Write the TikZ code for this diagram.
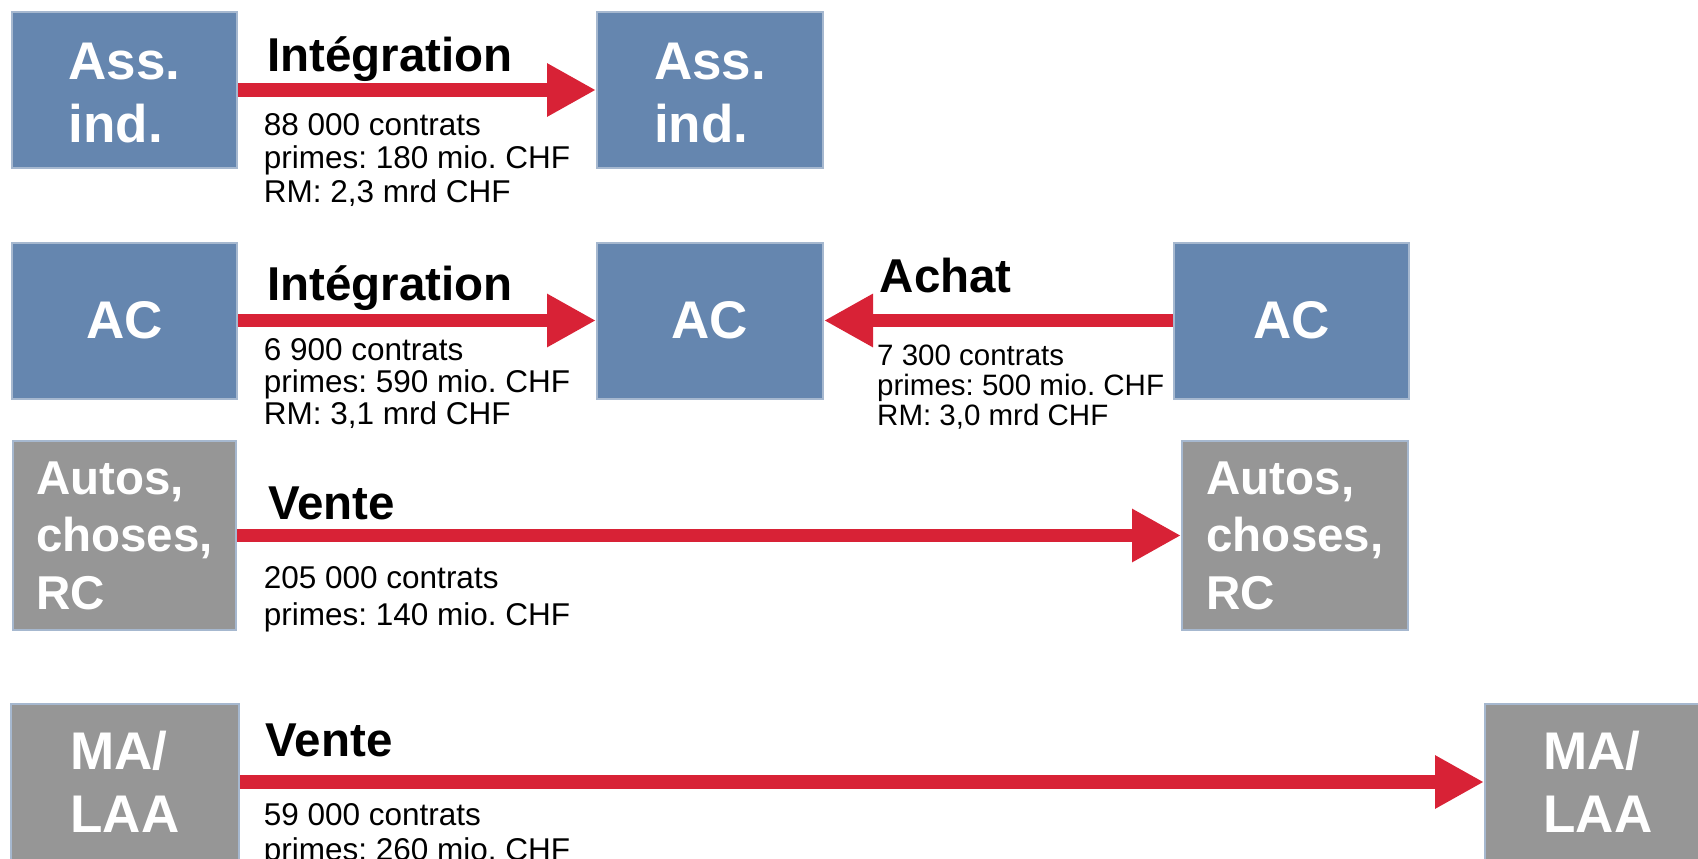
\documentclass[tikz,border=0pt]{standalone}
\usepackage{fontspec}
\setmainfont{Liberation Sans}
\frenchspacing
\usetikzlibrary{arrows.meta}
\definecolor{boxblue}{HTML}{6586AF}
\definecolor{boxgray}{HTML}{969696}
\definecolor{boxedge}{HTML}{A6B8CF}
\definecolor{flowred}{HTML}{D82236}

\begin{document}
\begin{tikzpicture}[x=1pt,y=-1pt,
    box/.style={draw=boxedge,line width=2pt,text=white,align=left,inner sep=0pt,
      minimum height=156pt,font=\fontsize{53}{63}\selectfont\bfseries},
    bluebox/.style={box,fill=boxblue},
    graybox/.style={box,fill=boxgray},
    flow/.style={draw=flowred,line width=13.5pt,-{Triangle[length=49pt,width=50pt]}},
    head/.style={inner sep=0pt,anchor=base west,font=\fontsize{47.5}{50}\selectfont\bfseries},
    info/.style={inner sep=0pt,anchor=north west,align=left,font=\fontsize{31.5}{33.5}\selectfont}]
  \useasboundingbox (0,0) rectangle (1698,859);

  \node[bluebox,minimum width=225pt] (1) at (124.5,90) {\rule{0pt}{43.5pt}Ass.\\ind.};
  \node[bluebox,minimum width=226pt] (2) at (710,90) {\rule{0pt}{43.5pt}Ass.\\ind.};
  \node[bluebox,minimum width=225pt] (3) at (124.5,320.5) {AC};
  \node[bluebox,minimum width=226pt] (4) at (710,320.5) {AC};
  \node[bluebox,minimum width=235pt] (5) at (1291.5,320.5) {AC};
  \node[graybox,minimum width=223pt,minimum height=189pt,
    font=\fontsize{47.5}{57.5}\selectfont\bfseries] (6) at (124.5,535.5) {Autos,\\choses,\\RC};
  \node[graybox,minimum width=226pt,minimum height=189pt,
    font=\fontsize{47.5}{57.5}\selectfont\bfseries] (7) at (1295,535.5) {Autos,\\choses,\\RC};
  \node[graybox,minimum width=228pt] (8) at (125,782) {MA/\\LAA};
  \node[graybox,minimum width=226pt] (9) at (1598,782) {MA/\\LAA};

  \draw[flow] (1) -- (2);
  \draw[flow] (3) -- (4);
  \draw[flow] (5) -- (4);
  \draw[flow] (6) -- (7);
  \draw[flow] (8) -- (9);

  \node[head] (t1) at (267,71.7) {Intégration};
  \node[head] (t2) at (267,300) {Intégration};
  \node[head] (t3) at (879.5,292.7) {Achat};
  \node[head] (t4) at (268,519) {Vente};
  \node[head] (t5) at (265.5,756.7) {Vente};

  \node[info] (i1) at (263.7,113.3) {88 000 contrats\\primes: 180 mio. CHF\\RM: 2,3 mrd CHF};
  \node[info,font=\fontsize{31.5}{32}\selectfont] (i2) at (263.7,338.3) {6 900 contrats\\primes: 590 mio. CHF\\RM: 3,1 mrd CHF};
  \node[info,font=\fontsize{29.5}{30}\selectfont] (i3) at (877,345) {7 300 contrats\\primes: 500 mio. CHF\\RM: 3,0 mrd CHF};
  \node[info,font=\fontsize{31.5}{36.7}\selectfont] (i4) at (263.7,566.7) {205 000 contrats\\primes: 140 mio. CHF};
  \node[info,font=\fontsize{31.5}{35}\selectfont] (i5) at (263.7,803.3) {59 000 contrats\\primes: 260 mio. CHF};
\end{tikzpicture}
\end{document}
